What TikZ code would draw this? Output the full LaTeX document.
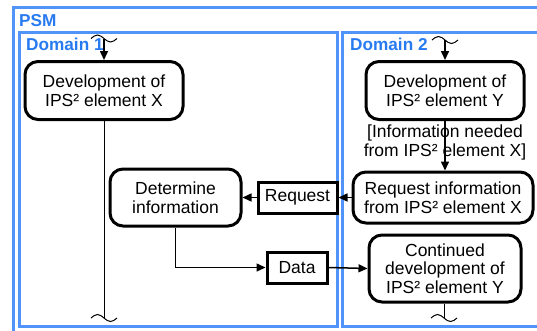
\documentclass[tikz,border=0pt]{standalone}
\usepackage{fontspec}
\setmainfont{Liberation Sans}
\usetikzlibrary{arrows.meta,calc}
\definecolor{laneblue}{RGB}{80,148,250}
\definecolor{labelblue}{RGB}{40,122,240}
\tikzset{
  lane/.style={draw=laneblue, line width=3pt},
  lanelabel/.style={text=labelblue, font=\fontsize{17.2}{18}\selectfont\bfseries, anchor=base west, inner sep=0pt},
  activity/.style={draw=black, line width=3pt, rounded corners=13pt, align=center,
    font=\fontsize{17.5}{18.5}\selectfont, inner sep=0pt},
  objbox/.style={draw=black, line width=3pt, align=center,
    font=\fontsize{17.5}{18.5}\selectfont, inner sep=0pt},
  flow/.style={line width=1.5pt, -{Triangle[length=9pt,width=8pt]}},
  lifeline/.style={line width=1pt},
  breakmark/.style={line width=1pt},
  guard/.style={align=center, font=\fontsize{17.5}{18.5}\selectfont, inner sep=0pt}
}
% wavy break mark centred on a coordinate
\newcommand{\flowbreak}[1]{%
  \draw[breakmark] ($(#1)+(-13,0)$) sin ++(6.5,-3.5) cos ++(6.5,3.5) sin ++(6.5,3.5) cos ++(6.5,-3.5);}
\begin{document}
\begin{tikzpicture}[x=1pt,y=-1pt]
\useasboundingbox (0,0) rectangle (537,330);
\clip (0,0) rectangle (537,330);

% partitions
\draw[lane] (13.5,7.5) rectangle (580,360);
\draw[lane] (19.5,32) rectangle (337,326);
\draw[lane] (342.5,32) rectangle (580,326);
\node[lanelabel] (psm) at (19,26.5) {PSM};
\node[lanelabel] (d1) at (26,50) {Domain 1};
\node[lanelabel] (d2) at (350,50) {Domain 2};

% activities
\node[activity, minimum width=158pt, minimum height=58pt] (devx) at (104,90.5)
  {Development of\\IPS² element X};
\node[activity, minimum width=158pt, minimum height=58pt] (devy) at (445,90.5)
  {Development of\\IPS² element Y};
\node[activity, minimum width=131pt, minimum height=57pt] (det) at (175.5,197.5)
  {Determine\\information};
\node[activity, minimum width=180pt, minimum height=51pt] (reqinfo) at (443,197.5)
  {Request information\\from IPS² element X};
\node[activity, minimum width=152pt, minimum height=67pt] (cont) at (445,268.5)
  {Continued\\development of\\IPS² element Y};

% object nodes
\node[objbox, minimum width=79pt, minimum height=31pt] (req) at (297.5,197.5) {Request};
\node[objbox, minimum width=60pt, minimum height=31pt] (data) at (297,267.5) {Data};

% guard
\node[guard] (grd) at (445,142.5) {[Information needed\\from IPS² element X]};

% break points
\coordinate (xtop) at (104,38.5);
\coordinate (ytop) at (445,40);
\coordinate (xbot) at (104,318);
\coordinate (ybot) at (444,318);
\flowbreak{xtop}
\flowbreak{ytop}
\flowbreak{xbot}
\flowbreak{ybot}

% flows
\draw[flow] (xtop) -- (devx.north);
\draw[flow] (ytop) -- (devy.north);
\draw[lifeline] (devx.south) -- (xbot);
\draw[flow] (devy.south) -- (reqinfo.north -| devy.south);
\draw[flow] (reqinfo.west) -- (req.east);
\draw[flow] (req.west) -- (det.east);
\draw[flow] (det.south) |- (data.west);
\draw[flow] (data.east) -- (cont.west);
\draw[lifeline] (cont.south -| ybot) -- (ybot);
\end{tikzpicture}
\end{document}
